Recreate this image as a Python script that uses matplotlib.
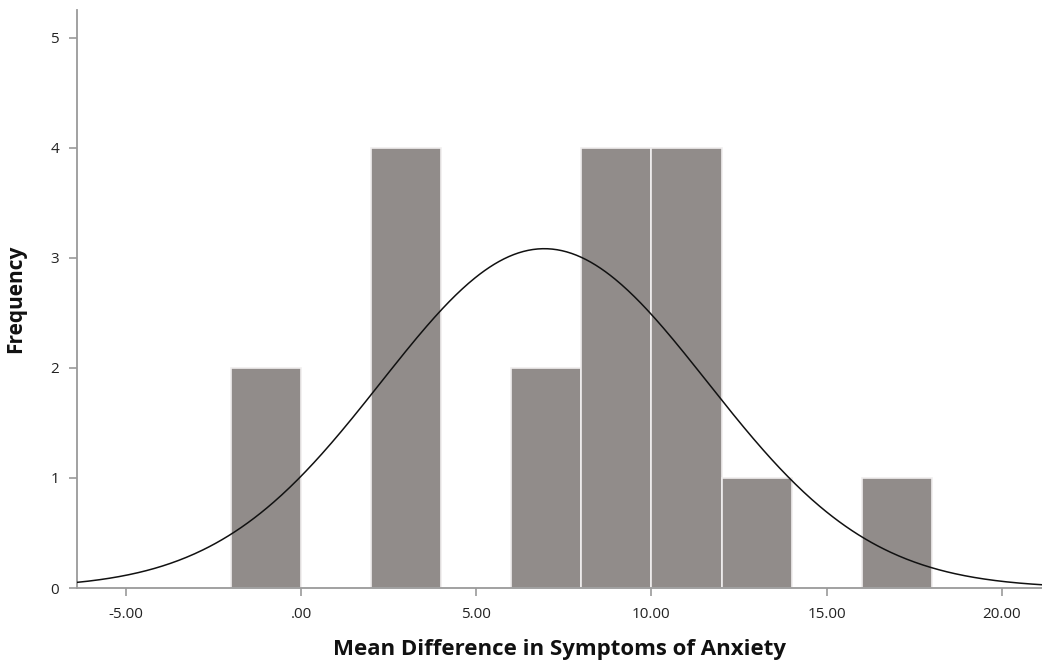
import numpy as np
import matplotlib
matplotlib.use("Agg")
import matplotlib.pyplot as plt

# Histogram bins (left edges), width and counts
bin_lefts = [-2, 2, 6, 8, 10, 12, 16]
bin_width = 2
counts = [2, 4, 2, 4, 4, 1, 1]

# Fitted normal curve parameters (as drawn by SPSS)
mean_val = 6.94
sd_val = 4.66
n_total = 18

xticks = [-5, 0, 5, 10, 15, 20]
xtick_labels = ["-5.00", ".00", "5.00", "10.00", "15.00", "20.00"]
yticks = [0, 1, 2, 3, 4, 5]

plt.rcParams['font.family'] = ['Open Sans', 'DejaVu Sans']

fig = plt.figure(figsize=(10.42, 6.67), dpi=100)
ax = fig.add_axes([77/1042, 79/667, 1 - 77/1042, (588-10)/667])

ax.bar(bin_lefts, counts, width=bin_width, align='edge', color='#918c8a',
       edgecolor='#f0eeee', linewidth=1.2, zorder=2)

xmin, xmax = -6.4, 21.15
xs = np.linspace(xmin, xmax, 600)
ys = n_total * bin_width / (sd_val * np.sqrt(2 * np.pi)) * np.exp(-(xs - mean_val) ** 2 / (2 * sd_val ** 2))
ax.plot(xs, ys, color='#111111', linewidth=1.1, zorder=3)

ax.set_xlim(xmin, xmax)
ax.set_ylim(0, 5.25)
ax.set_xticks(xticks)
ax.set_xticklabels(xtick_labels)
ax.set_yticks(yticks)

for s in ['top', 'right']:
    ax.spines[s].set_visible(False)
for s in ['left', 'bottom']:
    ax.spines[s].set_color('#9a9a9a')
    ax.spines[s].set_linewidth(1.3)

ax.tick_params(axis='both', colors='#9a9a9a', length=6, width=1.2, direction='out',
               labelcolor='#222222', labelsize=11)
ax.tick_params(axis='x', pad=8)
ax.tick_params(axis='y', pad=7)

ax.set_xlabel('Mean Difference in Symptoms of Anxiety', fontsize=16, fontweight='bold',
              color='#111111', labelpad=12)
ax.set_ylabel('Frequency', fontsize=15, fontweight='bold', color='#111111', labelpad=17)

fig.savefig('out.png', dpi=100)
